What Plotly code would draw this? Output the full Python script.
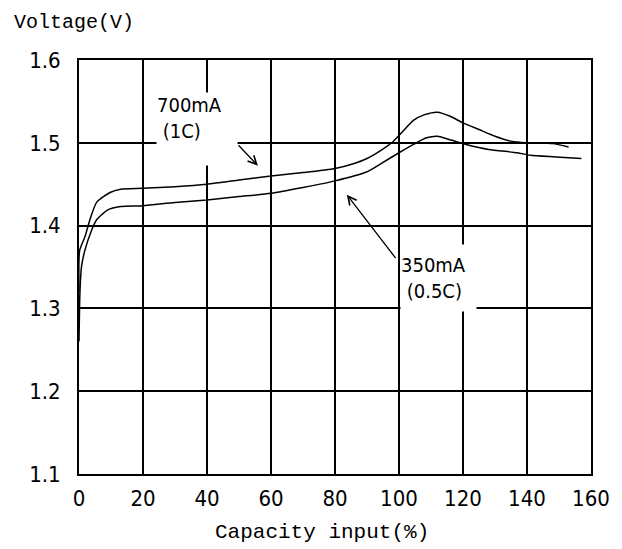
import plotly.graph_objects as go

# Capacity input (%) and voltage (V)
cap_1c = [0, 0.2, 1.9, 3.4, 5.5, 9.7, 13, 20, 30, 40, 50, 60, 70, 80, 86, 90, 94, 98,
          101, 104.5, 108, 112, 116, 120, 125, 130, 135, 140, 148, 153]
volt_1c = [1.32, 1.37, 1.387, 1.407, 1.428, 1.440, 1.444, 1.445, 1.447, 1.450, 1.455,
           1.460, 1.464, 1.469, 1.475, 1.481, 1.490, 1.501, 1.513, 1.527, 1.534, 1.537,
           1.532, 1.524, 1.516, 1.508, 1.502, 1.500, 1.499, 1.495]

cap_05c = [0, 0.3, 0.8, 1.9, 4, 5.5, 9, 13, 20, 30, 40, 50, 60, 70, 80, 90, 94, 100,
           105, 108.6, 112, 116.5, 121, 128, 137, 141, 149, 157]
volt_05c = [1.26, 1.32, 1.351, 1.371, 1.395, 1.407, 1.419, 1.423, 1.424, 1.428, 1.431,
            1.435, 1.439, 1.446, 1.454, 1.465, 1.474, 1.488, 1.499, 1.506, 1.508, 1.503,
            1.498, 1.492, 1.488, 1.485, 1.483, 1.481]

x_ticks = [0, 20, 40, 60, 80, 100, 120, 140, 160]
y_ticks = [1.1, 1.2, 1.3, 1.4, 1.5, 1.6]
y_tick_labels = ["1.1", "1.2", "1.3", "1.4", "1.5", "1.6"]

label_1c = "700mA<br> (1C)"
label_05c = "350mA<br> (0.5C)"
x_title = "Capacity input(%)"
y_title = "Voltage(V)"

NARROW = "DejaVu Sans Condensed, Liberation Sans Narrow, Liberation Sans, sans-serif"
MONO = "Liberation Mono, DejaVu Sans Mono, monospace"

fig = go.Figure()
fig.add_trace(go.Scatter(x=cap_1c, y=volt_1c, mode="lines",
                         line=dict(color="black", width=1.5, shape="spline", smoothing=0.6),
                         showlegend=False, hoverinfo="skip"))
fig.add_trace(go.Scatter(x=cap_05c, y=volt_05c, mode="lines",
                         line=dict(color="black", width=1.5, shape="spline", smoothing=0.6),
                         showlegend=False, hoverinfo="skip"))

# page body adds an 8px offset, so the figure is 8px smaller and margins shifted
fig.update_layout(
    width=614, height=541,
    margin=dict(l=71, r=31, t=52, b=75, autoexpand=False),
    paper_bgcolor="white", plot_bgcolor="white",
    xaxis=dict(range=[0, 160], tickvals=x_ticks, ticktext=[str(v) for v in x_ticks],
               showgrid=True, gridcolor="black", gridwidth=2,
               showline=True, linecolor="black", linewidth=2, mirror=True,
               ticks="", zeroline=False, ticklabelstandoff=4, automargin=False,
               tickfont=dict(family=NARROW, size=22, color="black")),
    yaxis=dict(range=[1.1, 1.6], tickvals=y_ticks, ticktext=y_tick_labels,
               showgrid=True, gridcolor="black", gridwidth=2,
               showline=True, linecolor="black", linewidth=2, mirror=True,
               ticks="", zeroline=False, ticklabelstandoff=12, automargin=False,
               tickfont=dict(family=NARROW, size=22, color="black")),
    font=dict(color="black"),
)

annotations = [
    # white label boxes
    dict(xref="x", yref="y", x=24.1, y=1.517, xanchor="left", yanchor="middle",
         text=label_1c, showarrow=False, align="left", bgcolor="white",
         width=80, height=72, borderpad=0, valign="top",
         font=dict(family=NARROW, size=20, color="black")),
    dict(xref="x", yref="y", x=100.2, y=1.3365, xanchor="left", yanchor="middle",
         text=label_05c, showarrow=False, align="left", bgcolor="white",
         width=75, height=66, borderpad=0, valign="middle",
         font=dict(family=NARROW, size=20, color="black")),
    # arrows
    dict(xref="x", yref="y", axref="x", ayref="y", x=55.9, y=1.4723, ax=49.4, ay=1.4988,
         text="", showarrow=True, arrowhead=5, arrowsize=1.3, arrowwidth=1.3,
         arrowcolor="black"),
    dict(xref="x", yref="y", axref="x", ayref="y", x=83.7, y=1.4374, ax=99.3, ay=1.359,
         text="", showarrow=True, arrowhead=5, arrowsize=1.3, arrowwidth=1.3,
         arrowcolor="black"),
    # axis titles
    dict(xref="paper", yref="paper", x=-67 / 512, y=1 + 38 / 414, xanchor="left",
         yanchor="middle", text=y_title, showarrow=False,
         font=dict(family=MONO, size=20, color="black")),
    dict(xref="paper", yref="paper", x=243 / 512, y=-58 / 414, xanchor="center",
         yanchor="middle", text=x_title, showarrow=False,
         font=dict(family=MONO, size=21, color="black")),
]
fig.update_layout(annotations=annotations)

fig.write_html("out.html")
